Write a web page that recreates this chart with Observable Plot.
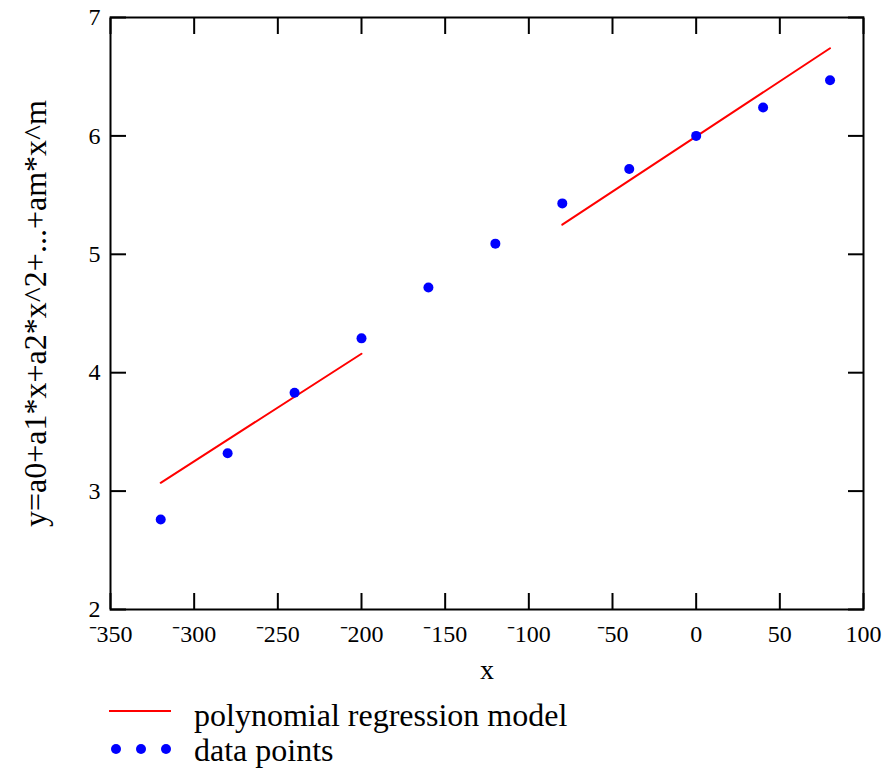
<!DOCTYPE html>
<html>
<head>
<meta charset="utf-8">
<script src="https://cdn.jsdelivr.net/npm/d3@7"></script>
<script src="https://cdn.jsdelivr.net/npm/@observablehq/plot@0.6"></script>
<style>
  body { margin: 0; background: #fff; font-family: "Liberation Serif", "Times New Roman", serif; }
  #wrap { position: relative; width: 889px; height: 769px; }
  #legend { position: absolute; left: 0; top: 690px; width: 889px; height: 79px; }
  #legend svg { position: absolute; left: 0; top: 0; overflow: visible; }
  .lt { position: absolute; left: 194px; font-size: 32px; line-height: 1; color: #000; white-space: nowrap; }
</style>
</head>
<body>
<div id="wrap">
  <div id="chart"></div>
  <div id="legend">
    <svg width="200" height="79">
      <line x1="109" y1="21" x2="171" y2="21" stroke="#ff0000" stroke-width="1.8"></line>
      <circle cx="116" cy="59" r="5" fill="#0000ff"></circle>
      <circle cx="141" cy="59" r="5" fill="#0000ff"></circle>
      <circle cx="166" cy="59" r="5" fill="#0000ff"></circle>
    </svg>
    <div class="lt" id="lt1" style="top: 9px;">polynomial regression model</div>
    <div class="lt" id="lt2" style="top: 44px;">data points</div>
  </div>
</div>
<script>
// Data points
const xValues = [-320, -280, -240, -200, -160, -120, -80, -40, 0, 40, 80];
const yValues = [2.76, 3.32, 3.83, 4.29, 4.72, 5.09, 5.43, 5.72, 6.00, 6.24, 6.47];

// Polynomial regression model segments
const modelSegment = ["a", "a", "b", "b"];
const modelX = [-320, -200, -80, 80];
const modelY = [3.07, 4.16, 5.25, 6.74];

// Axis ticks
const xTicks = [-350, -300, -250, -200, -150, -100, -50, 0, 50, 100];
const yTicks = [2, 3, 4, 5, 6, 7];

const yLabel = "y=a0+a1*x+a2*x^2+...+am*x^m";
const xLabel = "x";

const points = xValues.map((x, i) => ({x, y: yValues[i]}));
const model = modelX.map((x, i) => ({x, y: modelY[i], seg: modelSegment[i]}));

const fmt = d => d < 0 ? "\u207B" + Math.abs(d) : String(d);

const chart = Plot.plot({
  width: 889,
  height: 690,
  marginTop: 17,
  marginBottom: 81,
  marginLeft: 110,
  marginRight: 26,
  style: {fontFamily: "'Liberation Serif', 'Times New Roman', serif", fontSize: "24px", color: "#000", background: "#fff"},
  x: {domain: [-350, 100]},
  y: {domain: [2, 7]},
  marks: [
    Plot.frame({stroke: "#000", strokeWidth: 2}),
    Plot.axisX(xTicks, {anchor: "bottom", tickSize: -16, tickPadding: 31, strokeWidth: 2, tickFormat: fmt, label: null, fontSize: 24}),
    Plot.axisX(xTicks, {anchor: "top", tickSize: -16, strokeWidth: 2, tickFormat: () => "", label: null}),
    Plot.axisY(yTicks, {anchor: "left", tickSize: -16, tickPadding: 26, strokeWidth: 2, tickFormat: fmt, label: null, fontSize: 24}),
    Plot.axisY(yTicks, {anchor: "right", tickSize: -16, strokeWidth: 2, tickFormat: () => "", label: null}),
    Plot.line(model, {x: "x", y: "y", z: "seg", stroke: "#ff0000", strokeWidth: 2}),
    Plot.dot(points, {x: "x", y: "y", r: 5, fill: "#0000ff", stroke: null}),
    Plot.text([xLabel], {frameAnchor: "bottom", dy: 69, fontSize: 28, fill: "#000"}),
    Plot.text([yLabel], {frameAnchor: "left", textAnchor: "middle", dx: -75, rotate: -90, fontSize: 32, fill: "#000"})
  ]
});
document.getElementById("chart").appendChild(chart);
</script>
</body>
</html>
